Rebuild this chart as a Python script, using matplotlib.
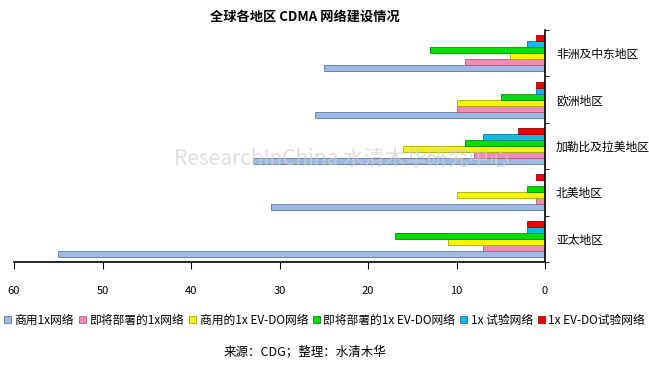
import matplotlib.pyplot as plt
import numpy as np

plt.rcParams['font.family'] = ['Noto Sans CJK SC', 'DejaVu Sans']

regions = ["亚太地区", "北美地区", "加勒比及拉美地区", "欧洲地区", "非洲及中东地区"]
series = ["商用1x网络", "即将部署的1x网络", "商用的1x EV-DO网络",
          "即将部署的1x EV-DO网络", "1x 试验网络", "1x EV-DO试验网络"]

commercial_1x = [55, 31, 33, 26, 25]
planned_1x = [7, 1, 8, 10, 9]
commercial_evdo = [11, 10, 16, 10, 4]
planned_evdo = [17, 2, 9, 5, 13]
trial_1x = [2, 0, 7, 1, 2]
trial_evdo = [2, 1, 3, 1, 1]

values = [commercial_1x, planned_1x, commercial_evdo, planned_evdo, trial_1x, trial_evdo]
face = ["#9db9e6", "#f08cb8", "#f5f500", "#00dd00", "#10b8ec", "#ee0000"]
edge = ["#5f7898", "#a86080", "#a8a800", "#009000", "#0878a0", "#a00000"]

fig = plt.figure(figsize=(6.49, 3.65), dpi=100)
ax = fig.add_axes([14 / 649, 1 - 262 / 365, (545 - 14) / 649, (262 - 30) / 365])

y = np.arange(len(regions))
h = 0.13
for i, (vals, fc, ec) in enumerate(zip(values, face, edge)):
    pos = y - 2.5 * h + i * h
    ax.barh(pos, vals, height=h, color=fc, edgecolor=ec, linewidth=0.6)

ax.set_xlim(60, 0)
ax.set_ylim(-0.5, len(regions) - 0.5)
ax.set_xticks(range(0, 61, 10))
ax.tick_params(axis="x", direction="out", length=5, pad=12, labelsize=8)
ax.yaxis.tick_right()
ax.set_yticks(y)
ax.set_yticklabels(regions, fontsize=8.5)
ax.tick_params(axis="y", length=0, pad=8)
ax.set_yticks(np.arange(-0.5, len(regions), 1), minor=True)
ax.tick_params(axis="y", which="minor", direction="out", length=3)
for s in ["top", "left"]:
    ax.spines[s].set_visible(False)
ax.spines["right"].set_linewidth(1.2)
ax.spines["bottom"].set_linewidth(1.2)

# faint watermark
fig.text(342 / 649, 1 - 160 / 365, "ResearchInChina 水清木华研究中心",
         fontsize=15, color="#d0d0d0", alpha=0.7, ha="center", va="center",
         fontstretch="condensed", zorder=5)

fig.text(305 / 649, 1 - 17 / 365, "全球各地区 CDMA 网络建设情况", ha="center", va="center",
         fontsize=9.5, fontweight="bold")

handles = [plt.Rectangle((0, 0), 1, 1, facecolor=fc, edgecolor=ec, linewidth=0.6)
           for fc, ec in zip(face, edge)]
fig.legend(handles, series, loc="center", bbox_to_anchor=(0.5, 1 - 320 / 365), ncol=6,
           frameon=False, fontsize=8.5, handlelength=0.6, handleheight=0.6,
           handletextpad=0.3, columnspacing=0.4, borderpad=0)

fig.text(305 / 649, 1 - 352 / 365, "来源：CDG；整理：水清木华", ha="center", va="center",
         fontsize=9)

fig.savefig("out.png", dpi=100)
